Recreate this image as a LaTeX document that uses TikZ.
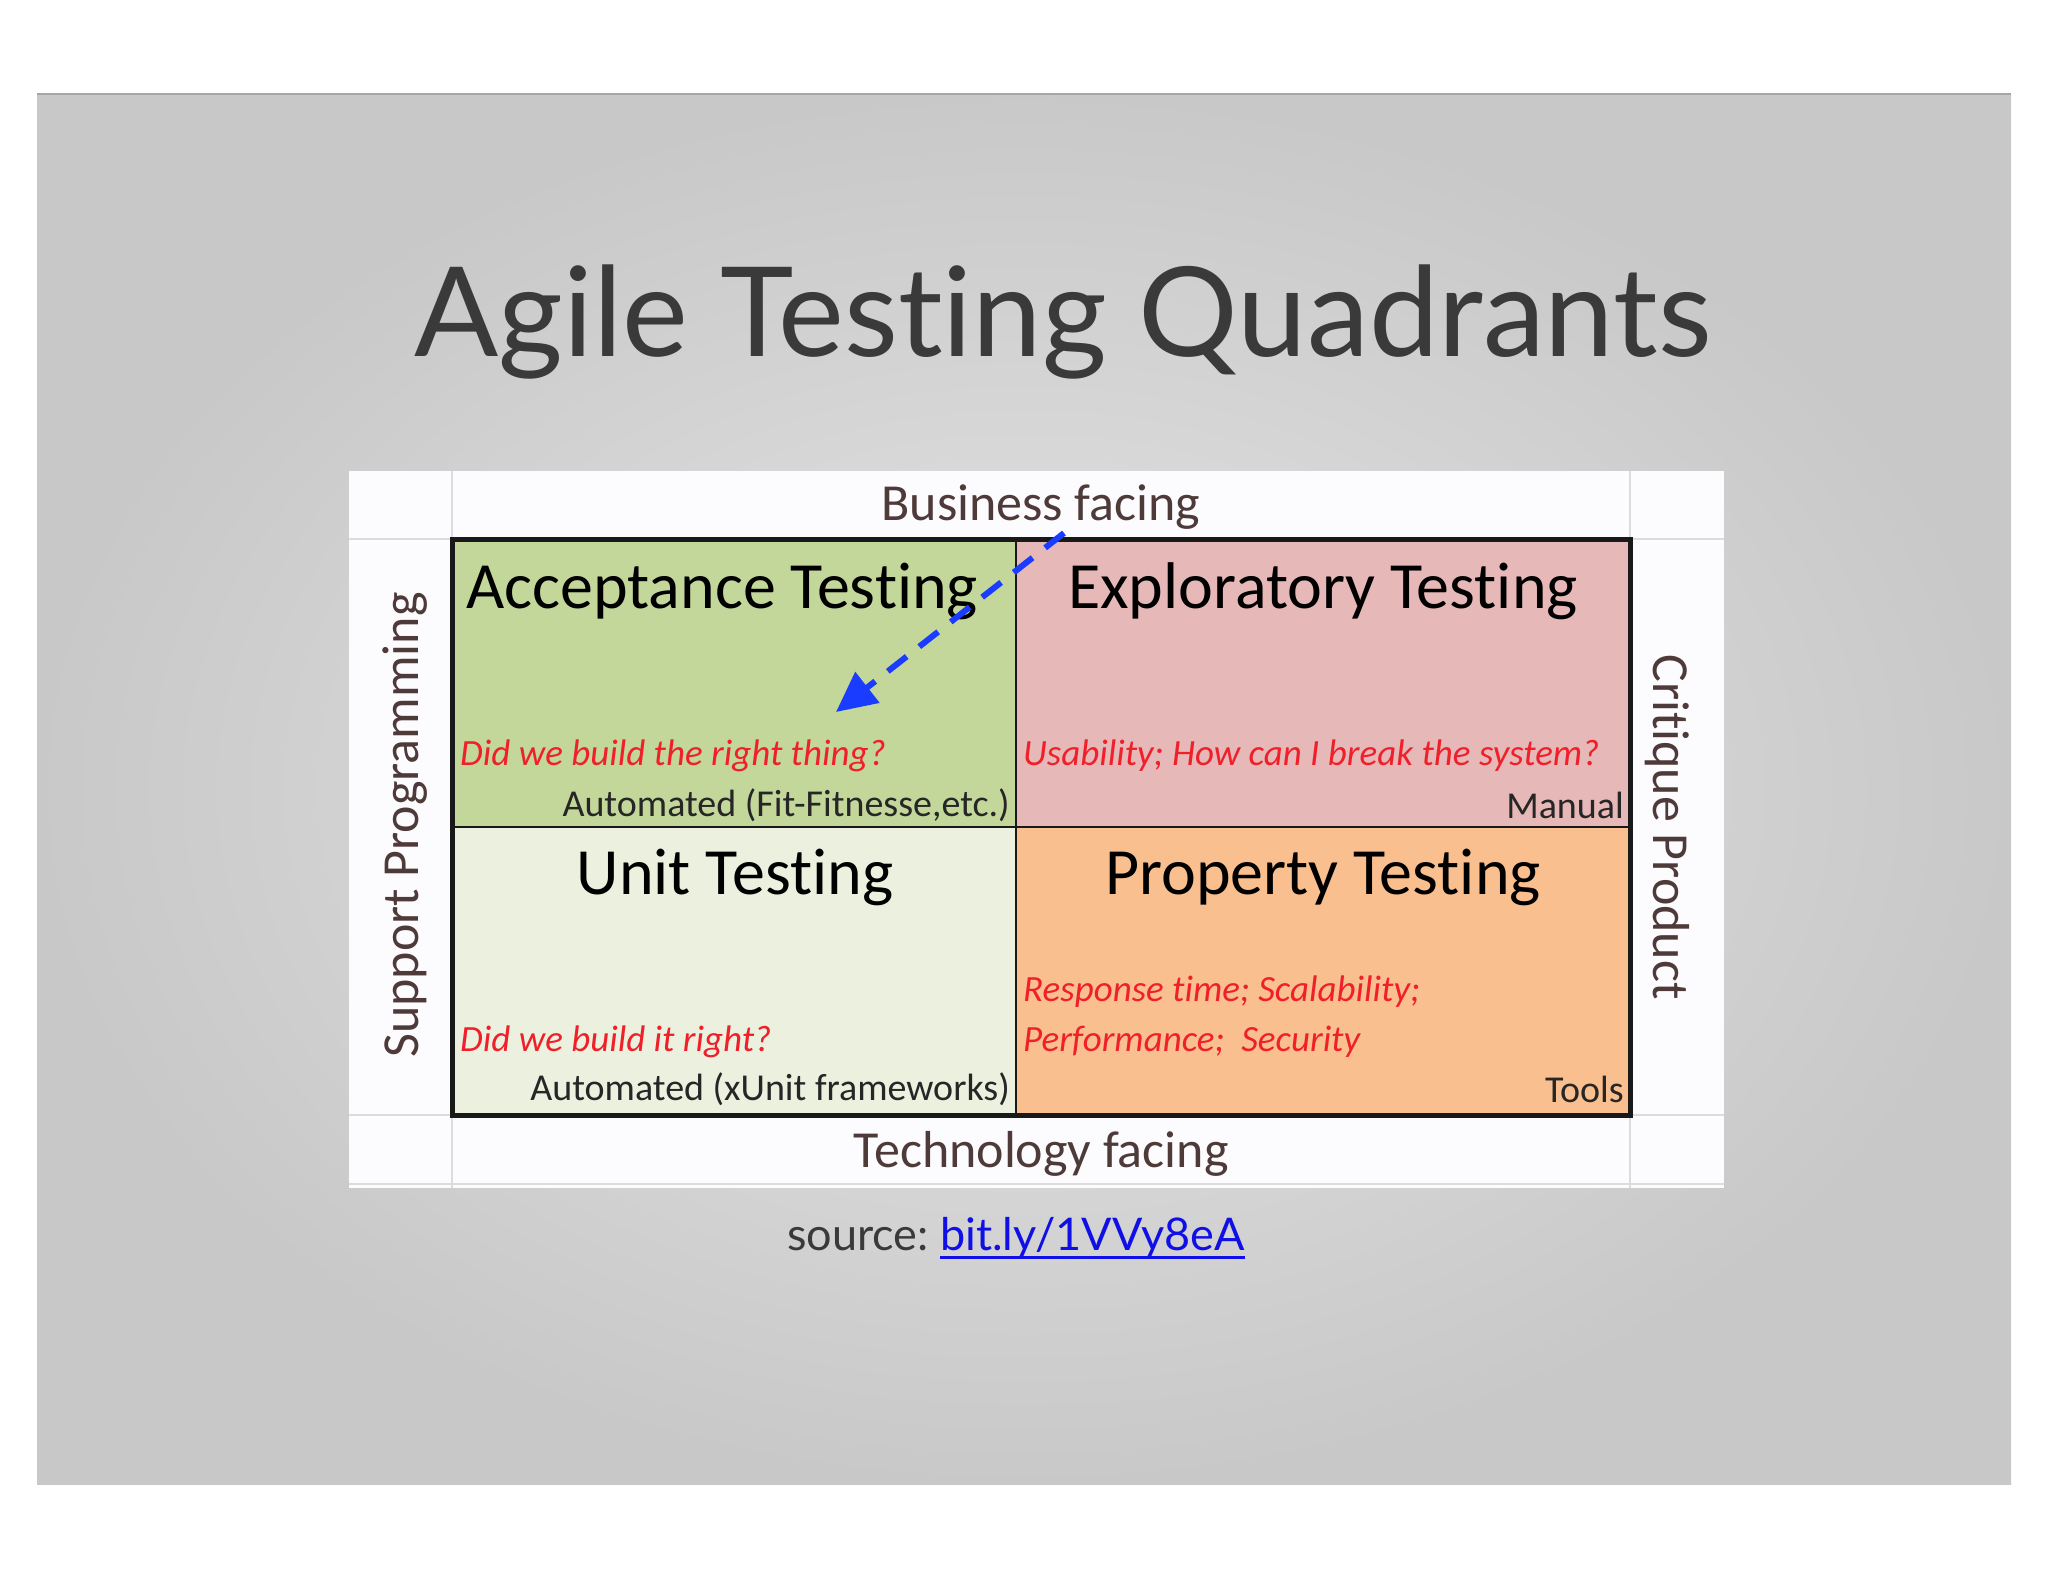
\documentclass[tikz,border=0pt]{standalone}
\usepackage{fontspec}
\setmainfont[Ligatures=NoCommon]{Carlito}
\newfontfamily\lato[Ligatures=NoCommon]{Lato}
\usetikzlibrary{arrows.meta}
\definecolor{qgreen}{HTML}{C4D79B}
\definecolor{qpink}{HTML}{E6B8B7}
\definecolor{qlight}{HTML}{EBF1DE}
\definecolor{qorange}{HTML}{FABF8F}
\definecolor{axiscol}{HTML}{4F3A3A}
\definecolor{redtxt}{HTML}{F0202A}
\definecolor{titlecol}{HTML}{3A3A3A}
\definecolor{arrowblue}{HTML}{1A3CFF}
\definecolor{linkblue}{HTML}{1010E6}
\definecolor{gridcol}{HTML}{DCDCDC}
\tikzset{
  axislabel/.style={inner sep=0pt, text=axiscol, font=\fontsize{52}{60}\selectfont},
  quadtitle/.style={inner sep=0pt, text=black, font=\fontsize{66}{76}\selectfont},
  question/.style={inner sep=0pt, text=redtxt, font=\fontsize{37}{44}\selectfont\itshape, anchor=west},
  toolnote/.style={inner sep=0pt, text=black!85, font=\fontsize{38}{44}\selectfont, anchor=east},
  quadline/.style={line width=2.5pt, draw=black!90},
}
\begin{document}
\begin{tikzpicture}[x=1pt,y=-1pt]
\useasboundingbox (0,0) rectangle (2048,1582);
\fill[white] (0,0) rectangle (2048,1582);
% slide
\shade[inner color=gray!20, outer color=gray!43] (37,94) rectangle (2011,1484);
\draw[line width=2.5pt, draw=gray!70] (37,94) -- (2011,94);
% title
\node[inner sep=0pt, text=titlecol, font=\lato\fontsize{124.5}{140}\selectfont] (title) at (1063,322) {Agile Testing Quadrants};
% picture box
\fill[white!99!blue] (349,471) rectangle (1724,1188);
\draw[gridcol, line width=2pt] (452,471) -- (452,1188);
\draw[gridcol, line width=2pt] (1630,471) -- (1630,1188);
\draw[gridcol, line width=2pt] (349,539) -- (1724,539);
\draw[gridcol, line width=2pt] (349,1115) -- (1724,1115);
\draw[gridcol, line width=2pt] (349,1184) -- (1724,1184);
% quadrants
\fill[qgreen] (452,539) rectangle (1016,827);
\fill[qpink] (1016,539) rectangle (1630,827);
\fill[qlight] (452,827) rectangle (1016,1115);
\fill[qorange] (1016,827) rectangle (1630,1115);
\draw[quadline] (1016,539) -- (1016,1115);
\draw[quadline] (452,827) -- (1630,827);
\draw[line width=5pt, draw=black!90] (452,539) rectangle (1630,1115);
% axis labels
\node[axislabel] (bus) at (1041,507) {Business facing};
\node[axislabel] (tech) at (1041,1154) {Technology facing};
\node[axislabel, rotate=90] (sup) at (405,825) {Support Programming};
\node[axislabel, rotate=-90] (crit) at (1667,827) {Critique Product};
% quadrant titles
\node[quadtitle, anchor=west] (acc) at (466,591) {Acceptance Testing};
\node[quadtitle] (exp) at (1323,591) {Exploratory Testing};
\node[quadtitle] (unit) at (735,877) {Unit Testing};
\node[quadtitle] (prop) at (1323,877) {Property Testing};
% questions
\node[question] (q1) at (460,756) {Did we build the right thing?};
\node[question] (q2) at (1023,756) {Usability; How can I break the system?};
\node[question] (q3) at (460,1042) {Did we build it right?};
\node[question] (q4a) at (1023,992) {Response time; Scalability;};
\node[question] (q4b) at (1023,1042) {Performance;\ \ Security};
% tools
\node[toolnote] (t1) at (1010,805) {Automated (Fit-Fitnesse,etc.)};
\node[toolnote] (t2) at (1624,805) {Manual};
\node[toolnote] (t3) at (1010,1089) {Automated (xUnit frameworks)};
\node[toolnote] (t4) at (1624,1089) {Tools};
% arrow
\coordinate (astart) at (1064,533);
\coordinate (aend) at (836,712);
\draw[arrowblue, line width=6pt, dash pattern=on 24pt off 16pt, -{Triangle[length=40pt,width=38pt]}] (astart) -- (aend);
% source
\node[inner sep=0pt, anchor=base east, text=titlecol, font=\lato\fontsize{45}{52}\selectfont] (src) at (929,1250) {source:};
\node[inner sep=0pt, anchor=base west, text=linkblue, font=\lato\fontsize{45}{52}\selectfont] (link) at ([xshift=11pt]src.base east) {bit.ly/1VVy8eA};
\draw[linkblue, line width=3pt] ([yshift=-7pt]link.base west) -- ([yshift=-7pt]link.base east);
\end{tikzpicture}
\end{document}
